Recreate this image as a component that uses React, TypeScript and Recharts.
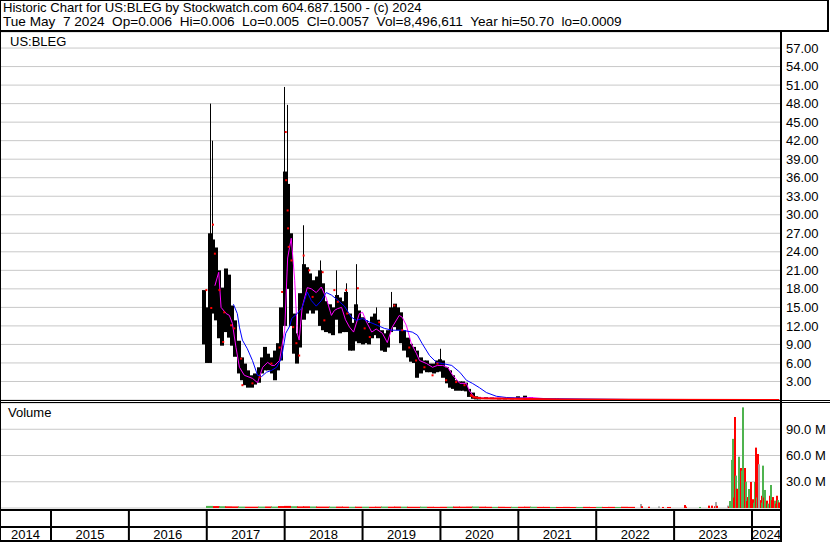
import React from 'react';
import { Bar, CartesianGrid, ComposedChart, Line, Scatter, XAxis, YAxis } from 'recharts';

const FONT = '"Liberation Sans", Arial, sans-serif';

// x axis runs in decimal years, from mid May 2014 to mid May 2024
const X0 = 2014.3453;
const X1 = 2024.3723;
const yearBounds = [2015, 2016, 2017, 2018, 2019, 2020, 2021, 2022, 2023, 2024];
const yearLabels = [2014, 2015, 2016, 2017, 2018, 2019, 2020, 2021, 2022, 2023, 2024];
const priceTicks = [3, 6, 9, 12, 15, 18, 21, 24, 27, 30, 33, 36, 39, 42, 45, 48, 51, 54, 57];
const volTicks = [30, 60, 90];

// price bars: half-monthly high/low ranges of the main body
const barDates = [
  '2016-12-20', '2017-01-01', '2017-01-15', '2017-02-01', '2017-02-15', '2017-03-01', '2017-03-15', '2017-04-01',
  '2017-04-15', '2017-05-01', '2017-05-15', '2017-06-01', '2017-06-15', '2017-07-01', '2017-07-15', '2017-08-01',
  '2017-08-15', '2017-09-01', '2017-09-15', '2017-10-01', '2017-10-15', '2017-11-01', '2017-11-15', '2017-12-01',
  '2017-12-15', '2018-01-01', '2018-01-15', '2018-02-01', '2018-02-15', '2018-03-01', '2018-03-15', '2018-04-01',
  '2018-04-15', '2018-05-01', '2018-05-15', '2018-06-01', '2018-06-15', '2018-07-01', '2018-07-15', '2018-08-01',
  '2018-08-15', '2018-09-01', '2018-09-15', '2018-10-01', '2018-10-15', '2018-11-01', '2018-11-15', '2018-12-01',
  '2018-12-15', '2019-01-01', '2019-01-15', '2019-02-01', '2019-02-15', '2019-03-01', '2019-03-15', '2019-04-01',
  '2019-04-15', '2019-05-01', '2019-05-15', '2019-06-01', '2019-06-15', '2019-07-01', '2019-07-15', '2019-08-01',
  '2019-08-15', '2019-09-01', '2019-09-15', '2019-10-01', '2019-10-15', '2019-11-01', '2019-11-15', '2019-12-01',
  '2019-12-15', '2020-01-01', '2020-01-15', '2020-02-01', '2020-02-15', '2020-03-01', '2020-03-15', '2020-04-01',
  '2020-04-15', '2020-05-01', '2020-05-15', '2020-06-01', '2020-06-15', '2020-07-01', '2020-08-01', '2020-09-01',
  '2020-10-01', '2020-11-01', '2020-12-01', '2021-01-01', '2021-02-01', '2021-03-01', '2021-04-01', '2021-05-01',
  '2021-07-01', '2021-10-01', '2022-01-01', '2022-06-01', '2023-01-01', '2023-10-01', '2024-05-01',
];
const barLo = [
  9.0, 6.0, 6.0, 14.0, 12.9, 10.0, 8.8, 11.0,
  10.1, 8.8, 7.0, 4.3, 3.2, 2.4, 2.0, 2.0,
  2.5, 2.8, 4.3, 4.8, 4.8, 4.3, 3.2, 4.8,
  6.4, 12.0, 18.0, 12.0, 7.5, 5.9, 8.5, 13.0,
  14.0, 14.5, 14.0, 14.5, 12.0, 11.3, 11.0, 10.8,
  10.5, 13.0, 10.8, 11.0, 11.0, 8.0, 8.0, 9.5,
  9.2, 9.0, 9.2, 9.0, 10.0, 10.5, 10.0, 8.0,
  7.8, 8.5, 11.0, 11.8, 11.3, 9.2, 8.0, 6.9,
  6.2, 6.0, 3.6, 4.3, 4.8, 4.5, 4.5, 4.3,
  4.5, 4.6, 3.6, 2.7, 2.0, 1.8, 1.5, 1.5,
  1.5, 1.4, 0.5, 0.2, 0.1, 0.1, 0.15, 0.15,
  0.1, 0.1, 0.1, 0.15, 0.2, 0.15, 0.1, 0.05,
  0.05, 0.03, 0.02, 0.02, 0.01, 0.005, 0.005,
];
const barHi = [
  17.8, 15.0, 27.0, 26.0, 24.7, 21.0, 18.2, 21.3,
  20.3, 15.3, 12.9, 9.6, 6.9, 5.9, 4.8, 4.0,
  4.3, 5.3, 6.9, 8.6, 7.5, 6.9, 8.0, 9.2,
  15.0, 37.0, 35.0, 27.0, 14.0, 10.8, 17.3, 22.0,
  21.5, 20.5, 19.4, 20.0, 21.0, 18.9, 16.0, 15.5,
  15.0, 17.0, 16.6, 16.0, 17.5, 14.0, 12.5, 15.5,
  14.5, 13.4, 12.9, 12.5, 13.5, 14.0, 13.0, 11.3,
  10.8, 11.3, 15.0, 15.6, 15.0, 14.2, 11.3, 10.1,
  9.1, 8.6, 8.0, 6.9, 6.4, 6.4, 5.9, 5.9,
  6.4, 6.6, 6.4, 5.3, 4.8, 4.0, 3.2, 3.0,
  3.0, 2.8, 1.8, 1.2, 0.6, 0.5, 0.45, 0.4,
  0.35, 0.3, 0.35, 0.6, 0.7, 0.45, 0.3, 0.25,
  0.2, 0.15, 0.1, 0.08, 0.05, 0.04, 0.02,
];

// single-session spikes drawn as thin wicks
const spikeDates = ['2017-01-17', '2017-01-28', '2018-01-02', '2018-01-12', '2018-03-29', '2018-06-18', '2018-09-01', '2018-10-16', '2018-12-04', '2019-03-06', '2019-05-16', '2020-01-02'];
const spikeLo = [14.0, 16.0, 30.0, 28.0, 18.0, 16.0, 14.0, 14.0, 12.0, 12.0, 12.0, 5.5];
const spikeHi = [48.0, 42.0, 50.7, 47.8, 28.3, 22.6, 21.0, 18.9, 22.0, 15.0, 17.5, 8.3];

// short moving average (magenta)
const magDates = [
  '2017-02-08', '2017-02-26', '2017-03-09', '2017-04-02', '2017-04-17', '2017-05-01', '2017-05-18', '2017-06-03',
  '2017-06-26', '2017-08-03', '2017-08-27', '2017-09-20', '2017-10-13', '2017-11-01', '2017-11-15', '2017-12-08',
  '2018-01-01', '2018-01-15', '2018-02-01', '2018-02-17', '2018-03-01', '2018-03-10', '2018-03-24', '2018-04-17',
  '2018-05-06', '2018-05-29', '2018-06-22', '2018-07-15', '2018-08-08', '2018-08-22', '2018-09-06', '2018-09-25',
  '2018-10-13', '2018-11-01', '2018-11-20', '2018-12-17', '2019-01-01', '2019-01-20', '2019-02-13', '2019-03-06',
  '2019-04-04', '2019-04-27', '2019-05-20', '2019-06-22', '2019-07-06', '2019-07-25', '2019-08-18', '2019-09-11',
  '2019-09-25', '2019-10-28', '2019-11-25', '2019-12-18', '2020-01-11', '2020-02-04', '2020-02-28', '2020-04-01',
  '2020-05-02', '2020-05-16', '2020-06-09', '2020-08-01', '2021-01-01', '2021-03-01', '2021-06-01', '2022-01-01',
  '2024-05-07',
];
const magVals = [
  18.5, 20.7, 15.0, 14.0, 13.7, 12.4, 8.5, 5.3,
  4.0, 3.5, 2.8, 5.3, 6.1, 5.6, 5.6, 6.4,
  11.3, 23.0, 26.2, 19.4, 10.8, 9.7, 15.0, 18.2,
  18.0, 17.4, 18.3, 16.5, 13.7, 14.5, 14.8, 15.0,
  13.0, 11.8, 11.0, 14.0, 14.2, 12.6, 11.0, 11.5,
  10.8, 9.3, 11.8, 13.7, 13.4, 12.1, 9.1, 7.5,
  6.4, 5.9, 5.3, 5.6, 5.6, 5.3, 4.0, 2.7,
  2.7, 1.5, 0.4, 0.3, 0.3, 0.4, 0.15, 0.05,
  0.01,
];

// long moving average (blue)
const blueDates = [
  '2017-05-06', '2017-05-24', '2017-06-03', '2017-06-17', '2017-07-10', '2017-08-03', '2017-08-27', '2017-09-15',
  '2017-10-08', '2017-11-01', '2017-11-24', '2017-12-17', '2018-01-06', '2018-01-25', '2018-02-03', '2018-03-01',
  '2018-03-24', '2018-04-17', '2018-05-06', '2018-05-29', '2018-06-22', '2018-07-15', '2018-08-08', '2018-09-06',
  '2018-10-08', '2018-11-10', '2018-12-03', '2019-01-01', '2019-02-04', '2019-03-11', '2019-04-13', '2019-05-20',
  '2019-07-06', '2019-08-22', '2019-09-15', '2019-10-08', '2019-11-11', '2019-12-13', '2020-01-11', '2020-02-23',
  '2020-04-01', '2020-05-02', '2020-05-30', '2020-07-02', '2020-08-04', '2020-09-20', '2020-11-07', '2021-02-23',
  '2021-06-28', '2022-06-01', '2024-05-07',
];
const blueVals = [
  15.5, 14.0, 11.8, 9.7, 8.3, 6.4, 4.0, 3.8,
  4.5, 4.8, 5.3, 6.7, 10.8, 12.0, 13.2, 14.0,
  15.0, 17.5, 16.1, 15.2, 16.1, 17.4, 17.0, 16.2,
  15.2, 13.4, 12.9, 13.2, 12.6, 12.1, 11.6, 11.3,
  11.3, 11.0, 10.5, 9.1, 7.2, 6.1, 5.9, 5.6,
  4.5, 3.2, 2.7, 2.0, 1.2, 0.6, 0.4, 0.25,
  0.2, 0.1, 0.05,
];

// closing line near zero after the collapse (red)
const closeDates = ['2020-05-20', '2020-06-05', '2020-07-10', '2020-09-01', '2020-12-01', '2021-03-01', '2021-08-01', '2022-06-01', '2024-05-07'];
const closeVals = [0.9, 0.45, 0.3, 0.25, 0.2, 0.15, 0.08, 0.03, 0.006];

// red close marks
const dotDates = [
  '2016-12-30', '2017-01-22', '2017-01-30', '2017-02-08', '2017-03-01', '2017-03-19', '2017-03-24', '2017-04-25',
  '2017-05-10', '2017-06-11', '2017-06-17', '2017-08-03', '2017-09-06', '2017-10-31', '2017-12-08', '2017-12-20',
  '2018-01-06', '2018-01-08', '2018-01-15', '2018-01-17', '2018-01-20', '2018-02-02', '2018-02-10', '2018-02-25',
  '2018-03-10', '2018-03-31', '2018-04-26', '2018-05-12', '2018-06-28', '2018-07-06', '2018-08-22', '2018-09-07',
  '2018-10-16', '2018-10-21', '2018-12-10', '2019-01-11', '2019-02-04', '2019-03-20', '2019-05-30', '2019-07-06',
  '2019-08-08', '2019-09-09', '2019-10-18', '2019-11-25', '2019-12-18', '2020-01-28', '2020-03-15', '2020-04-23',
  '2020-05-24', '2020-06-09',
];
const dotVals = [
  17.8, 14.9, 28.4, 23.7, 17.8, 9.4, 14.2, 12.1,
  11.6, 6.7, 2.4, 2.7, 3.7, 5.9, 8.5, 17.5,
  43.4, 35.6, 30.7, 27.8, 24.8, 22.6, 11.8, 9.2,
  7.2, 23.4, 21.0, 16.7, 20.7, 12.9, 17.8, 15.9,
  17.8, 14.0, 18.1, 11.6, 10.2, 12.6, 15.3, 11.3,
  8.5, 6.4, 5.3, 4.0, 5.9, 3.2, 2.9, 2.4,
  0.7, 0.45,
];

// volume, millions: monthly thin strip 2017 - mid 2022
const stripMonths = [
  '2017-01', '2017-02', '2017-03', '2017-04', '2017-05', '2017-06', '2017-07', '2017-08', '2017-09', '2017-10', '2017-11', '2017-12',
  '2018-01', '2018-02', '2018-03', '2018-04', '2018-05', '2018-06', '2018-07', '2018-08', '2018-09', '2018-10', '2018-11', '2018-12',
  '2019-01', '2019-02', '2019-03', '2019-04', '2019-05', '2019-06', '2019-07', '2019-08', '2019-09', '2019-10', '2019-11', '2019-12',
  '2020-01', '2020-02', '2020-03', '2020-04', '2020-05', '2020-06', '2020-07', '2020-08', '2020-09', '2020-10', '2020-11', '2020-12',
  '2021-01', '2021-02', '2021-03', '2021-04', '2021-05', '2021-06', '2021-07', '2021-08', '2021-09', '2021-10', '2021-11', '2021-12',
  '2022-01', '2022-02', '2022-03', '2022-04', '2022-05', '2022-06',
];
const stripVol = [
  2.4, 2.2, 2.0, 1.9, 1.8, 1.6, 1.5, 1.5, 1.6, 1.7, 1.6, 2.2,
  2.4, 2.0, 1.8, 1.9, 1.7, 1.6, 1.6, 1.5, 1.6, 1.5, 1.4, 1.5,
  1.5, 1.4, 1.5, 1.6, 1.5, 1.6, 1.5, 1.4, 1.4, 1.5, 1.4, 1.3,
  1.4, 1.5, 1.6, 1.5, 1.6, 1.7, 1.5, 1.4, 1.3, 1.4, 1.3, 1.3,
  1.4, 1.5, 1.4, 1.3, 1.3, 1.2, 1.2, 1.3, 1.2, 1.2, 1.3, 1.2,
  1.3, 1.2, 1.3, 1.2, 1.4, 1.3,
];
const stripSide = [
  'g', 'r', 'g', 'r', 'r', 'g', 'r', 'r', 'g', 'r', 'g', 'r',
  'r', 'g', 'r', 'r', 'g', 'r', 'r', 'g', 'r', 'r', 'g', 'r',
  'g', 'r', 'r', 'g', 'r', 'r', 'g', 'r', 'r', 'g', 'r', 'r',
  'r', 'g', 'r', 'r', 'r', 'g', 'r', 'r', 'g', 'r', 'r', 'g',
  'r', 'r', 'g', 'r', 'r', 'g', 'r', 'r', 'r', 'g', 'r', 'r',
  'g', 'r', 'r', 'g', 'r', 'r',
];

// volume, millions: individual sessions from mid 2022
const volDates = [
  '2022-07-28', '2022-08-02', '2022-09-05', '2022-10-20', '2022-11-10', '2022-12-05', '2022-12-15', '2023-02-20',
  '2023-02-28', '2023-05-01', '2023-06-15', '2023-06-28', '2023-07-10', '2023-07-15', '2023-07-22', '2023-09-10',
  '2023-09-17', '2023-09-21', '2023-09-28', '2023-10-06', '2023-10-10', '2023-10-15', '2023-10-18', '2023-10-23',
  '2023-10-27', '2023-11-02', '2023-11-09', '2023-11-16', '2023-11-22', '2023-11-27', '2023-12-02', '2023-12-07',
  '2023-12-11', '2023-12-19', '2023-12-25', '2024-01-04', '2024-01-09', '2024-01-14', '2024-01-18', '2024-01-22',
  '2024-01-26', '2024-01-30', '2024-02-05', '2024-02-10', '2024-02-15', '2024-02-19', '2024-02-23', '2024-02-28',
  '2024-03-04', '2024-03-08', '2024-03-12', '2024-03-18', '2024-03-25', '2024-04-01', '2024-04-05', '2024-04-10',
  '2024-04-17', '2024-04-22', '2024-04-26', '2024-05-01', '2024-05-06',
];
const volVals = [
  4.6, 2.0, 1.5, 1.8, 1.2, 1.2, 1.2, 3.4,
  1.5, 1.2, 2.7, 2.7, 2.0, 6.8, 2.5, 2.7,
  1.5, 8.0, 55, 79, 12, 104, 37, 22,
  16, 58.6, 45.7, 42.7, 115, 45.7, 30, 8,
  12.5, 21.7, 29.7, 10, 6, 29.7, 10, 69,
  12, 61.7, 50, 9, 14, 6, 48.4, 12,
  20.6, 6, 8.4, 5, 14, 26.3, 9, 12.5,
  8.4, 5, 14, 9, 6.4,
];
const volSide = [
  'n', 'r', 'r', 'n', 'r', 'r', 'r', 'r',
  'r', 'g', 'r', 'r', 'r', 'n', 'r', 'n',
  'r', 'g', 'g', 'g', 'r', 'r', 'g', 'r',
  'r', 'g', 'r', 'g', 'g', 'r', 'g', 'r',
  'r', 'g', 'r', 'r', 'g', 'g', 'r', 'r',
  'g', 'r', 'n', 'r', 'r', 'g', 'g', 'r',
  'g', 'g', 'r', 'g', 'r', 'g', 'r', 'r',
  'g', 'r', 'r', 'g', 'r',
];

const SIDE_COLOR: Record<string, string> = { g: '#4fb34f', r: '#ff0000', n: '#a6a6a6' };

function yr(d: string) {
  const [y, m, dd] = d.split('-').map(Number);
  const start = Date.UTC(y, 0, 1);
  const end = Date.UTC(y + 1, 0, 1);
  return y + (Date.UTC(y, m - 1, dd || 15) - start) / (end - start);
}

const priceData = [
  ...barDates.map((d, i) => ({ t: yr(d), range: [barLo[i], barHi[i]] })),
  ...spikeDates.map((d, i) => ({ t: yr(d), spike: [spikeLo[i], spikeHi[i]] })),
];
const magLine = magDates.map((d, i) => ({ t: yr(d), v: magVals[i] }));
const blueLine = blueDates.map((d, i) => ({ t: yr(d), v: blueVals[i] }));
const closeLine = closeDates.map((d, i) => ({ t: yr(d), v: closeVals[i] }));
const redDots = dotDates.map((d, i) => ({ t: yr(d), p: dotVals[i] }));

const volData = [
  ...stripMonths.map((m, i) => ({ t: yr(m), sv: stripVol[i], c: stripSide[i] })),
  ...volDates.map((d, i) => ({ t: yr(d), v: volVals[i], c: volSide[i] })),
];

// label ticks sit in the middle of each (possibly partial) year
const labelCenters = yearLabels.map(y => (Math.max(y, X0) + Math.min(y + 1, X1)) / 2);
const bottomTicks = [...yearBounds, ...labelCenters].sort((a, b) => a - b);

const tickStyle = { fill: '#000', fontSize: 13, fontFamily: FONT };

const RedDot = (p: any) => <rect x={p.cx - 1} y={p.cy - 1} width={2} height={2} fill="#ff0000" />;

// recharts caps bar width to the tightest data spacing, so draw fixed-width rects centred on the slot
const fixedBar = (w: number, color?: string) => (p: any) => {
  if (p.x == null || p.height == null) return null;
  const top = Math.min(p.y, p.y + p.height);
  const h = Math.max(Math.abs(p.height), 1);
  const fill = color ?? SIDE_COLOR[p.payload?.c] ?? '#000';
  return <rect x={Math.round(p.x + p.width / 2 - w / 2)} y={top} width={w} height={h} fill={fill} />;
};
const priceBarShape = fixedBar(4, '#000');
const spikeShape = fixedBar(1, '#000');
const stripShape = fixedBar(7);
const volShape = fixedBar(2);

function BottomTick({ x, y, payload }: any) {
  const v = payload.value;
  if (Number.isInteger(v)) {
    return <line x1={x} x2={x} y1={y + 2} y2={y + 33} stroke="#000" strokeWidth={2} />;
  }
  return (
    <text x={x} y={y + 31} textAnchor="middle" fontSize={13} fontFamily={FONT} fill="#000">
      {Math.floor(v)}
    </text>
  );
}

const hline = (top: number, h: number, w = 781) => (
  <div style={{ position: 'absolute', left: 0, top, width: w, height: h, background: '#000' }} />
);

export default function App() {
  return (
    <div style={{ position: 'absolute', left: 0, top: 0, width: 830, height: 543, background: '#fff', fontFamily: FONT, overflow: 'hidden' }}>
      <div style={{
        position: 'absolute', left: 0, top: 0, width: 829, height: 32, boxSizing: 'border-box',
        borderTop: '1px solid #000', borderLeft: '1px solid #000', borderRight: '2px solid #000', borderBottom: '2px solid #000',
        fontSize: 13.6, lineHeight: '14px', whiteSpace: 'pre', padding: '0 0 0 2px', color: '#000',
      }}>
        <div style={{ fontSize: 13.1 }}>Historic Chart for US:BLEG by Stockwatch.com 604.687.1500 - (c) 2024</div>
        <div>{'Tue May  7 2024  Op=0.006  Hi=0.006  Lo=0.005  Cl=0.0057  Vol=8,496,611  Year hi=50.70  lo=0.0009'}</div>
      </div>

      <div style={{ position: 'absolute', left: 0, top: 32 }}>
        <ComposedChart width={830} height={368} data={priceData} margin={{ top: 0, right: 0, bottom: 0, left: 0 }}>
          <CartesianGrid stroke="#c8c8c8" />
          <XAxis dataKey="t" type="number" domain={[X0, X1]} ticks={yearBounds} height={0} tick={false} axisLine={false} tickLine={false} />
          <XAxis xAxisId="w" dataKey="t" type="number" domain={[X0, X1]} hide />
          <YAxis orientation="right" width={49} domain={[0, 59.6]} ticks={priceTicks} interval={0}
            tickFormatter={(v: number) => v.toFixed(2)} axisLine={false} tickLine={false} tickSize={0} tickMargin={5} tick={tickStyle} />
          <Bar dataKey="range" fill="#000" shape={priceBarShape} isAnimationActive={false} />
          <Bar xAxisId="w" dataKey="spike" fill="#000" shape={spikeShape} isAnimationActive={false} />
          <Line data={magLine} dataKey="v" type="linear" stroke="#ff00ff" strokeWidth={1} dot={false} activeDot={false} isAnimationActive={false} />
          <Line data={blueLine} dataKey="v" type="linear" stroke="#0000ff" strokeWidth={1} dot={false} activeDot={false} isAnimationActive={false} />
          <Line data={closeLine} dataKey="v" type="linear" stroke="#ff0000" strokeWidth={2} dot={false} activeDot={false} isAnimationActive={false} />
          <Scatter data={redDots} dataKey="p" shape={RedDot} isAnimationActive={false} />
        </ComposedChart>
      </div>

      <div style={{ position: 'absolute', left: 0, top: 403 }}>
        <ComposedChart width={830} height={140} data={volData} margin={{ top: 0, right: 0, bottom: 0, left: 0 }}>
          <CartesianGrid stroke="#c8c8c8" xAxisId="g" />
          <XAxis xAxisId="g" dataKey="t" type="number" domain={[X0, X1]} ticks={yearBounds} height={0} tick={false} axisLine={false} tickLine={false} />
          <XAxis xAxisId="s" dataKey="t" type="number" domain={[X0, X1]} hide />
          <XAxis dataKey="t" type="number" domain={[X0, X1]} ticks={bottomTicks} interval={0} height={35}
            tick={<BottomTick />} axisLine={false} tickLine={false} tickSize={0} tickMargin={0} />
          <YAxis orientation="right" width={49} domain={[0, 120]} ticks={volTicks} interval={0}
            tickFormatter={(v: number) => `${v.toFixed(1)} M`} axisLine={false} tickLine={false} tickSize={0} tickMargin={5} tick={tickStyle} />
          <Bar xAxisId="s" dataKey="sv" shape={stripShape} isAnimationActive={false} />
          <Bar dataKey="v" shape={volShape} isAnimationActive={false} />
        </ComposedChart>
      </div>

      <div style={{ position: 'absolute', left: 10, top: 34, fontSize: 13, lineHeight: '15px' }}>US:BLEG</div>
      <div style={{ position: 'absolute', left: 8, top: 405, fontSize: 13, lineHeight: '15px' }}>Volume</div>

      {/* pane frames */}
      <div style={{ position: 'absolute', left: 0, top: 0, width: 1, height: 542, background: '#000' }} />
      <div style={{ position: 'absolute', left: 780, top: 32, width: 2, height: 510, background: '#000' }} />
      {hline(400, 1, 830)}
      {hline(402, 1, 830)}
      {hline(509, 2)}
      {hline(526, 2)}
      {hline(540, 2)}
    </div>
  );
}
